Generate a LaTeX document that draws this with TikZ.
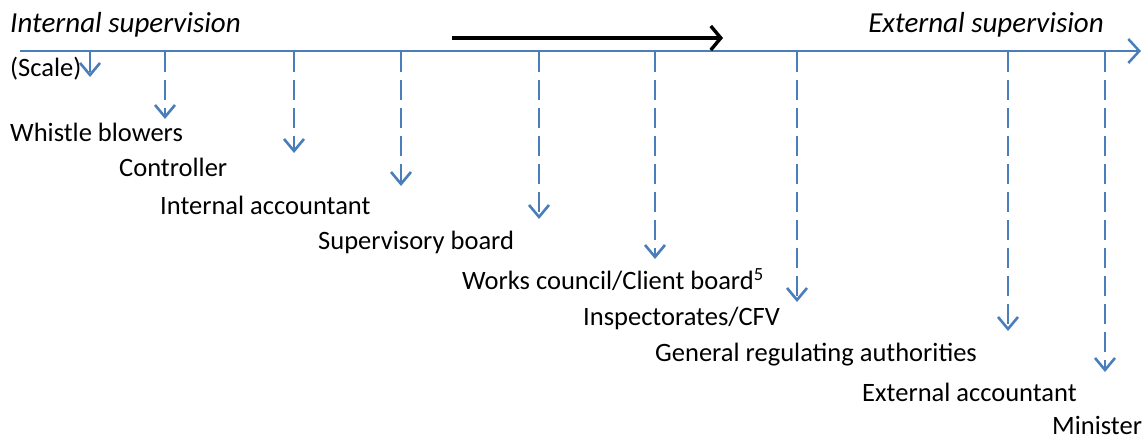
\documentclass[tikz,border=0pt]{standalone}
\usepackage{fontspec}
\setmainfont{Carlito}
\usetikzlibrary{arrows.meta}
\definecolor{axisblue}{HTML}{4A7EBB}
\tikzset{
  lbl/.style={anchor=west, inner sep=0pt, font=\fontsize{26.5}{28}\selectfont},
  ttl/.style={lbl, font=\fontsize{29}{31}\selectfont\itshape},
  axisline/.style={axisblue, line width=2.5pt, -{Straight Barb[length=11pt,width=24pt,line width=2.5pt]}},
  drop/.style={axisblue, line width=2.7pt, dash pattern=on 20pt off 8pt,
    -{Straight Barb[length=12pt,width=20pt,line width=2.6pt]}},
  trend/.style={black, line width=3.8pt, -{Straight Barb[length=10pt,width=24pt,line width=3.4pt]}}
}
\begin{document}
\begin{tikzpicture}[x=1pt,y=-1pt]
\useasboundingbox (0,0) rectangle (1144,439);

% horizontal scale from internal to external supervision
\coordinate (a0) at (20,51);
\coordinate (a1) at (1141,51);
\draw[axisline] (a0) -- (a1);

% direction arrow
\coordinate (t0) at (452,38);
\coordinate (t1) at (723,38);
\draw[trend] (t0) -- (t1);

% end titles
\node[ttl] (int) at (10,25) {Internal supervision};
\node[ttl, anchor=east] (ext) at (1104,25) {External supervision};

% labels of the supervisors
\node[lbl] (scale) at (10,69) {(Scale)};
\node[lbl] (wb)  at (10,132) {Whistle blowers};
\node[lbl] (ctl) at (119,167) {Controller};
\node[lbl] (ia)  at (160,205) {Internal accountant};
\node[lbl] (sb)  at (318,242) {Supervisory board};
\node[lbl] (wc)  at (462,280) {Works council/Client board\textsuperscript{5}};
\node[lbl] (ins) at (583,318) {Inspectorates/CFV};
\node[lbl] (gra) at (655,355) {General regulating authorities};
\node[lbl] (ea)  at (862,392) {External accountant};
\node[lbl] (min) at (1052,425) {Minister};

% dashed drops from the scale
\foreach \n/\x/\y in {1/90/77, 2/165/119, 3/294/153, 4/401/186, 5/539/219,
                      6/655/259, 7/797/302, 8/1008/331, 9/1105/372} {
  \coordinate (s\n) at (\x,52);
  \coordinate (e\n) at (\x,\y);
  \draw[drop] (s\n) -- (e\n);
}
\end{tikzpicture}
\end{document}
